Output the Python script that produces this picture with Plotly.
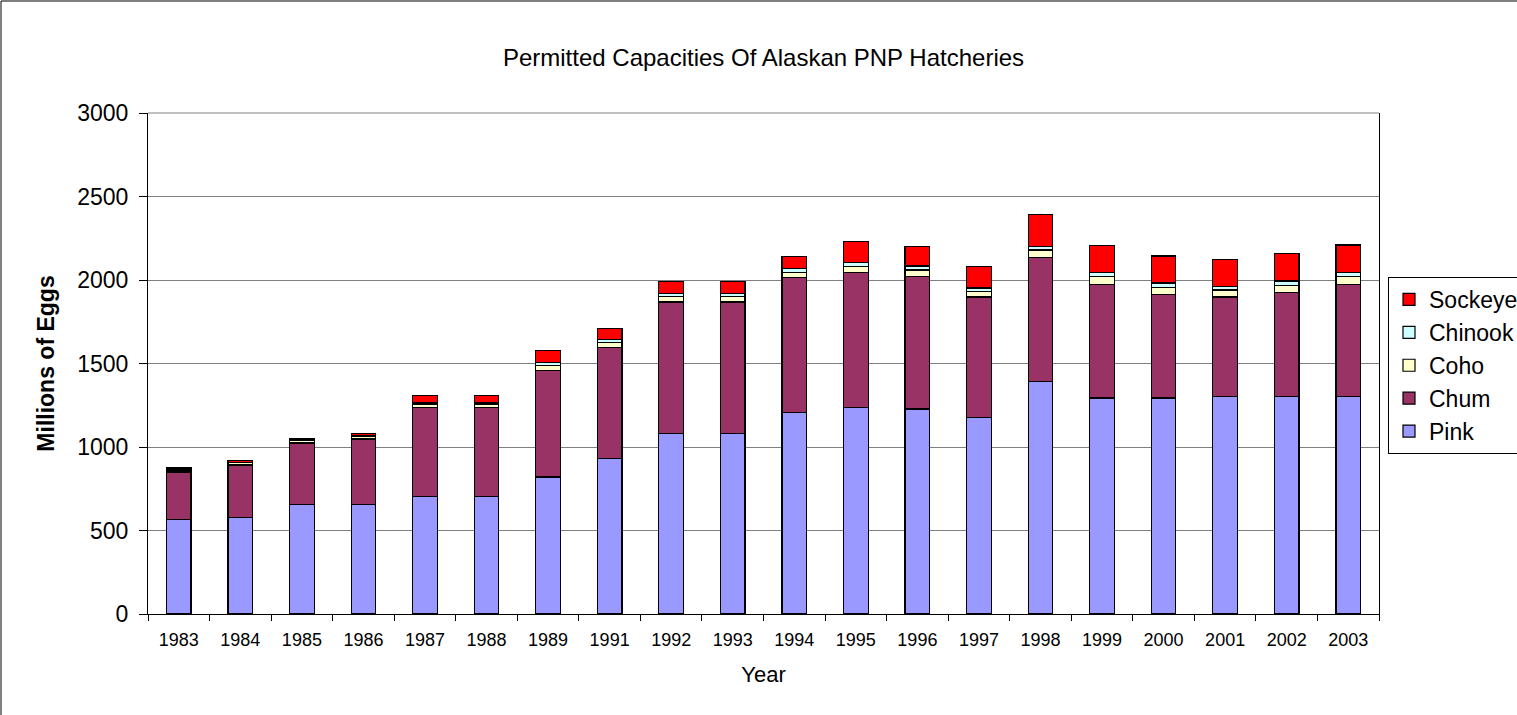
import plotly.graph_objects as go

years = ["1983", "1984", "1985", "1986", "1987", "1988", "1989", "1991", "1992", "1993",
         "1994", "1995", "1996", "1997", "1998", "1999", "2000", "2001", "2002", "2003"]
pink = [565, 580, 656, 656, 704, 704, 820, 930, 1082, 1082,
        1208, 1236, 1228, 1178, 1394, 1294, 1294, 1304, 1304, 1304]
chum = [285, 312, 368, 392, 534, 534, 640, 666, 786, 786,
        807, 808, 792, 720, 742, 680, 620, 594, 620, 670]
coho = [12, 14, 16, 16, 18, 18, 28, 28, 32, 32,
        32, 36, 40, 32, 44, 46, 42, 42, 44, 46]
chinook = [2, 2, 2, 6, 8, 8, 18, 22, 20, 20,
           20, 24, 24, 22, 22, 24, 26, 20, 26, 24]
sockeye = [10, 10, 10, 10, 44, 44, 70, 64, 70, 70,
           72, 126, 116, 128, 192, 162, 162, 164, 164, 166]

series = [
    ("Pink", pink, "#9999FF"),
    ("Chum", chum, "#993366"),
    ("Coho", coho, "#FFFFCC"),
    ("Chinook", chinook, "#CCFFFF"),
    ("Sockeye", sockeye, "#FF0000"),
]

FONT = "Arial, Liberation Sans, sans-serif"

fig = go.Figure()
for name, vals, col in series:
    fig.add_trace(go.Bar(
        x=years, y=vals, name=name,
        marker=dict(color=col, line=dict(color="black", width=1.2)),
    ))

W, H = 1517, 715
L, R, T, B = 148, 138, 113, 101
pw = W - L - R
ph = H - T - B

def px_x(x):
    return (x - L) / pw

def px_y(y):
    return (H - B - y) / ph

fig.update_layout(
    width=W, height=H,
    barmode="stack",
    bargap=0.6,
    paper_bgcolor="white",
    plot_bgcolor="white",
    font=dict(family=FONT, color="black"),
    margin=dict(l=L, r=R, t=T, b=B, autoexpand=False),
    title=dict(text="Permitted Capacities Of Alaskan PNP Hatcheries",
               x=0.5, xref="paper", xanchor="center",
               y=1 - 58 / H, yanchor="middle",
               font=dict(size=24, family=FONT)),
    legend=dict(
        x=px_x(1388), y=px_y(277), xanchor="left", yanchor="top",
        traceorder="reversed",
        bordercolor="black", borderwidth=1, bgcolor="white",
        font=dict(size=23, family=FONT),
        itemwidth=30,
    ),
    xaxis=dict(
        title=dict(text="Year", font=dict(size=22, family=FONT), standoff=18),
        tickfont=dict(size=18, family=FONT),
        showline=True, linecolor="black", linewidth=1,
        ticks="outside", ticklen=6, tickcolor="black",
        tickson="boundaries",
        ticklabelstandoff=9,
        showgrid=False,
    ),
    yaxis=dict(
        title=dict(text="<b>Millions of Eggs</b>", font=dict(size=23, family=FONT), standoff=16),
        tickfont=dict(size=23, family=FONT),
        range=[0, 3000], dtick=500,
        showline=True, linecolor="black", linewidth=1, mirror=True,
        ticks="outside", ticklen=8, tickcolor="black",
        ticklabelstandoff=6,
        showgrid=True, gridcolor="#808080", gridwidth=1,
        zeroline=False,
    ),
    shapes=[dict(
        type="rect", xref="paper", yref="paper",
        x0=px_x(1), x1=px_x(1530), y0=px_y(730), y1=px_y(1),
        line=dict(color="black", width=1), fillcolor="rgba(0,0,0,0)", layer="below",
    ), dict(
        type="line", xref="paper", yref="paper", x0=0, x1=1, y0=1, y1=1,
        line=dict(color="#808080", width=1),
    )],
)

fig.write_html("out.html", config={"displayModeBar": False},
               post_script="document.body.style.margin='0';document.body.style.overflow='hidden';")
